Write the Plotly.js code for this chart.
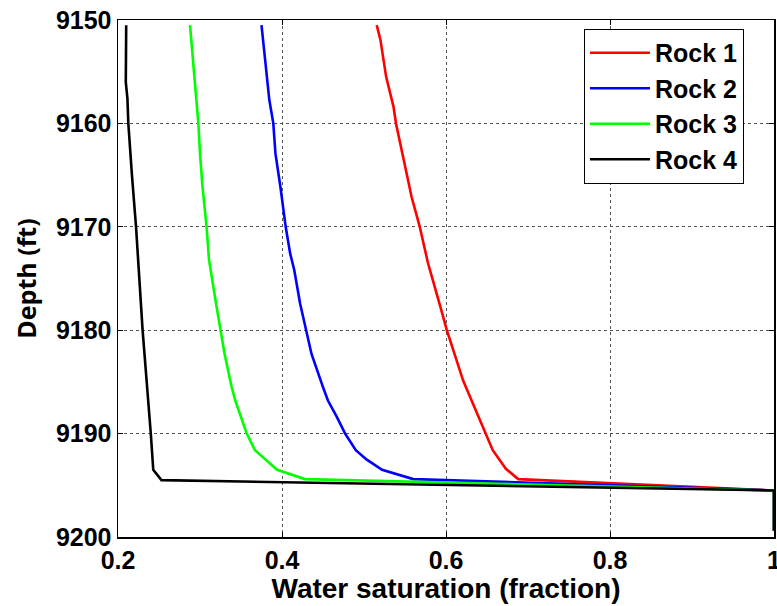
<!DOCTYPE html>
<html>
<head>
<meta charset="utf-8">
<script src="https://cdn.plot.ly/plotly-3.0.1.min.js"></script>
<style>html,body{margin:0;padding:0;background:#fff;}#chart{width:777px;height:606px;}</style>
</head>
<body>
<div id="chart"></div>
<script>
// Rock 1 (red)
const rock1Sw    = [0.5155, 0.520, 0.527, 0.536, 0.539, 0.549, 0.558, 0.568, 0.578, 0.593, 0.601, 0.621, 0.633, 0.648, 0.657, 0.673, 0.688, 1.0, 1.0];
const rock1Depth = [9150.5, 9151.9, 9155.5, 9158.4, 9160.0, 9163.6, 9167.1, 9170.0, 9173.5, 9177.7, 9180.0, 9184.9, 9187.1, 9190.0, 9191.6, 9193.4, 9194.4, 9195.5, 9199.4];
// Rock 2 (blue)
const rock2Sw    = [0.375, 0.381, 0.3845, 0.3894, 0.392, 0.398, 0.4045, 0.410, 0.415, 0.422, 0.429, 0.436, 0.450, 0.456, 0.467, 0.477, 0.490, 0.503, 0.522, 0.560, 1.0, 1.0];
const rock2Depth = [9150.5, 9154.8, 9157.7, 9160.0, 9162.9, 9166.1, 9170.0, 9172.6, 9174.2, 9177.4, 9180.0, 9182.3, 9185.5, 9186.8, 9188.4, 9190.0, 9191.6, 9192.5, 9193.5, 9194.4, 9195.5, 9199.4];
// Rock 3 (green)
const rock3Sw    = [0.2878, 0.294, 0.298, 0.300, 0.303, 0.308, 0.311, 0.3195, 0.325, 0.330, 0.3386, 0.343, 0.357, 0.367, 0.394, 0.428, 1.0, 1.0];
const rock3Depth = [9150.5, 9156.4, 9160.0, 9162.9, 9166.1, 9170.0, 9173.2, 9177.4, 9180.0, 9182.3, 9185.5, 9186.8, 9190.0, 9191.6, 9193.5, 9194.4, 9195.5, 9199.4];
// Rock 4 (black)
const rock4Sw    = [0.210, 0.2095, 0.2115, 0.2126, 0.217, 0.222, 0.230, 0.2357, 0.240, 0.243, 0.253, 1.0, 1.0];
const rock4Depth = [9150.5, 9156.0, 9157.6, 9160.0, 9165.0, 9170.0, 9180.0, 9185.5, 9190.0, 9193.5, 9194.5, 9195.5, 9199.4];

const seriesNames = ["Rock 1", "Rock 2", "Rock 3", "Rock 4"];
const seriesColors = ["#ff0000", "#0000ff", "#00ff00", "#000000"];
const xTicks = [0.2, 0.4, 0.6, 0.8, 1.0];
const xTickText = ["0.2", "0.4", "0.6", "0.8", "1"];
const yTicks = [9150, 9160, 9170, 9180, 9190, 9200];

const xs = [rock1Sw, rock2Sw, rock3Sw, rock4Sw];
const ys = [rock1Depth, rock2Depth, rock3Depth, rock4Depth];

const traces = seriesNames.map((n, i) => ({
  x: xs[i], y: ys[i], name: n, type: 'scatter', mode: 'lines',
  line: {color: seriesColors[i], width: 2.6}
}));

const tickFont = {family: 'Liberation Sans, Arial, sans-serif', size: 25, color: '#000', weight: 'bold'};

const layout = {
  width: 777, height: 606,
  margin: {l: 118, r: 3, t: 20, b: 69},
  paper_bgcolor: '#fff', plot_bgcolor: '#fff',
  showlegend: true,
  xaxis: {
    range: [0.2, 1.0], tickvals: xTicks, ticktext: xTickText,
    showgrid: true, gridcolor: '#555', griddash: 'dot', gridwidth: 1,
    zeroline: false, showline: true, linecolor: '#000', linewidth: 1.5, mirror: 'ticks',
    ticks: 'inside', ticklen: 5, tickcolor: '#000',
    tickfont: tickFont, ticklabelstandoff: 0, ticklabeloverflow: 'allow',
    title: {text: 'Water saturation (fraction)', font: {family: 'Liberation Sans, Arial, sans-serif', size: 28, color: '#000', weight: 'bold'}, standoff: 1}
  },
  yaxis: {
    range: [9200, 9150], tickvals: yTicks,
    showgrid: true, gridcolor: '#555', griddash: 'dot', gridwidth: 1,
    zeroline: false, showline: true, linecolor: '#000', linewidth: 1.5, mirror: 'ticks',
    ticks: 'inside', ticklen: 5, tickcolor: '#000',
    tickfont: tickFont, ticklabeloverflow: 'allow',
    title: {text: 'Depth (ft)', font: {family: 'Open Sans, sans-serif', size: 25, color: '#000', weight: 'bold'}, standoff: 12}
  },
  legend: {
    x: 0.710, y: 0.983, xanchor: 'left', yanchor: 'top',
    bgcolor: '#fff', bordercolor: '#000', borderwidth: 1.2,
    font: {family: 'Liberation Sans, Arial, sans-serif', size: 25, color: '#000', weight: 'bold'},
    itemwidth: 60, tracegroupgap: 0
  }
};

Plotly.newPlot('chart', traces, layout, {displayModeBar: false, staticPlot: true});
</script>
</body>
</html>
